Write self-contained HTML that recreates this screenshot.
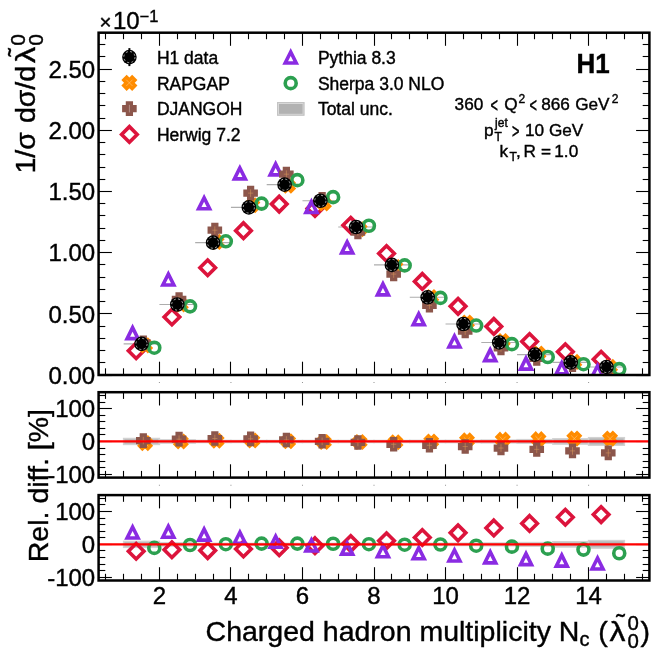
<!DOCTYPE html>
<html lang="en"><head><meta charset="utf-8"><title>H1 charged hadron multiplicity</title>
<style>html,body{margin:0;padding:0;background:#fff}svg{display:block;will-change:transform}text{font-family:"Liberation Sans",sans-serif;fill:#000;stroke:#000;stroke-width:0.4px}</style></head><body>
<svg width="655" height="658" viewBox="0 0 655 658">
<rect width="655" height="658" fill="#fff"/>
<defs>
<clipPath id="ct"><rect x="98.6" y="32.5" width="550.8" height="342.5"/></clipPath>
<clipPath id="cm"><rect x="98.6" y="392.2" width="550.8" height="85.4"/></clipPath>
<clipPath id="cb"><rect x="98.6" y="495.1" width="550.8" height="85.4"/></clipPath>
</defs>
<g stroke="#000" stroke-width="1.1"><line x1="105.5" y1="375" x2="105.5" y2="368.3"/><line x1="105.5" y1="32.5" x2="105.5" y2="39.2"/><line x1="123.5" y1="375" x2="123.5" y2="368.3"/><line x1="123.5" y1="32.5" x2="123.5" y2="39.2"/><line x1="141.5" y1="375" x2="141.5" y2="368.3"/><line x1="141.5" y1="32.5" x2="141.5" y2="39.2"/><line x1="159.5" y1="375" x2="159.5" y2="361.7"/><line x1="159.5" y1="32.5" x2="159.5" y2="45.8"/><line x1="177.5" y1="375" x2="177.5" y2="368.3"/><line x1="177.5" y1="32.5" x2="177.5" y2="39.2"/><line x1="195.5" y1="375" x2="195.5" y2="368.3"/><line x1="195.5" y1="32.5" x2="195.5" y2="39.2"/><line x1="213.5" y1="375" x2="213.5" y2="368.3"/><line x1="213.5" y1="32.5" x2="213.5" y2="39.2"/><line x1="230.5" y1="375" x2="230.5" y2="361.7"/><line x1="230.5" y1="32.5" x2="230.5" y2="45.8"/><line x1="248.5" y1="375" x2="248.5" y2="368.3"/><line x1="248.5" y1="32.5" x2="248.5" y2="39.2"/><line x1="266.5" y1="375" x2="266.5" y2="368.3"/><line x1="266.5" y1="32.5" x2="266.5" y2="39.2"/><line x1="284.5" y1="375" x2="284.5" y2="368.3"/><line x1="284.5" y1="32.5" x2="284.5" y2="39.2"/><line x1="302.5" y1="375" x2="302.5" y2="361.7"/><line x1="302.5" y1="32.5" x2="302.5" y2="45.8"/><line x1="320.5" y1="375" x2="320.5" y2="368.3"/><line x1="320.5" y1="32.5" x2="320.5" y2="39.2"/><line x1="338.5" y1="375" x2="338.5" y2="368.3"/><line x1="338.5" y1="32.5" x2="338.5" y2="39.2"/><line x1="356.5" y1="375" x2="356.5" y2="368.3"/><line x1="356.5" y1="32.5" x2="356.5" y2="39.2"/><line x1="374.5" y1="375" x2="374.5" y2="361.7"/><line x1="374.5" y1="32.5" x2="374.5" y2="45.8"/><line x1="391.5" y1="375" x2="391.5" y2="368.3"/><line x1="391.5" y1="32.5" x2="391.5" y2="39.2"/><line x1="409.5" y1="375" x2="409.5" y2="368.3"/><line x1="409.5" y1="32.5" x2="409.5" y2="39.2"/><line x1="427.5" y1="375" x2="427.5" y2="368.3"/><line x1="427.5" y1="32.5" x2="427.5" y2="39.2"/><line x1="445.5" y1="375" x2="445.5" y2="361.7"/><line x1="445.5" y1="32.5" x2="445.5" y2="45.8"/><line x1="463.5" y1="375" x2="463.5" y2="368.3"/><line x1="463.5" y1="32.5" x2="463.5" y2="39.2"/><line x1="481.5" y1="375" x2="481.5" y2="368.3"/><line x1="481.5" y1="32.5" x2="481.5" y2="39.2"/><line x1="499.5" y1="375" x2="499.5" y2="368.3"/><line x1="499.5" y1="32.5" x2="499.5" y2="39.2"/><line x1="517.5" y1="375" x2="517.5" y2="361.7"/><line x1="517.5" y1="32.5" x2="517.5" y2="45.8"/><line x1="534.5" y1="375" x2="534.5" y2="368.3"/><line x1="534.5" y1="32.5" x2="534.5" y2="39.2"/><line x1="552.5" y1="375" x2="552.5" y2="368.3"/><line x1="552.5" y1="32.5" x2="552.5" y2="39.2"/><line x1="570.5" y1="375" x2="570.5" y2="368.3"/><line x1="570.5" y1="32.5" x2="570.5" y2="39.2"/><line x1="588.5" y1="375" x2="588.5" y2="361.7"/><line x1="588.5" y1="32.5" x2="588.5" y2="45.8"/><line x1="606.5" y1="375" x2="606.5" y2="368.3"/><line x1="606.5" y1="32.5" x2="606.5" y2="39.2"/><line x1="624.5" y1="375" x2="624.5" y2="368.3"/><line x1="624.5" y1="32.5" x2="624.5" y2="39.2"/><line x1="642.5" y1="375" x2="642.5" y2="368.3"/><line x1="642.5" y1="32.5" x2="642.5" y2="39.2"/><line x1="98.6" y1="375.5" x2="111.9" y2="375.5"/><line x1="649.4" y1="375.5" x2="636.1" y2="375.5"/><line x1="98.6" y1="362.5" x2="105.3" y2="362.5"/><line x1="649.4" y1="362.5" x2="642.7" y2="362.5"/><line x1="98.6" y1="350.5" x2="105.3" y2="350.5"/><line x1="649.4" y1="350.5" x2="642.7" y2="350.5"/><line x1="98.6" y1="338.5" x2="105.3" y2="338.5"/><line x1="649.4" y1="338.5" x2="642.7" y2="338.5"/><line x1="98.6" y1="326.5" x2="105.3" y2="326.5"/><line x1="649.4" y1="326.5" x2="642.7" y2="326.5"/><line x1="98.6" y1="313.5" x2="111.9" y2="313.5"/><line x1="649.4" y1="313.5" x2="636.1" y2="313.5"/><line x1="98.6" y1="301.5" x2="105.3" y2="301.5"/><line x1="649.4" y1="301.5" x2="642.7" y2="301.5"/><line x1="98.6" y1="289.5" x2="105.3" y2="289.5"/><line x1="649.4" y1="289.5" x2="642.7" y2="289.5"/><line x1="98.6" y1="277.5" x2="105.3" y2="277.5"/><line x1="649.4" y1="277.5" x2="642.7" y2="277.5"/><line x1="98.6" y1="264.5" x2="105.3" y2="264.5"/><line x1="649.4" y1="264.5" x2="642.7" y2="264.5"/><line x1="98.6" y1="252.5" x2="111.9" y2="252.5"/><line x1="649.4" y1="252.5" x2="636.1" y2="252.5"/><line x1="98.6" y1="240.5" x2="105.3" y2="240.5"/><line x1="649.4" y1="240.5" x2="642.7" y2="240.5"/><line x1="98.6" y1="228.5" x2="105.3" y2="228.5"/><line x1="649.4" y1="228.5" x2="642.7" y2="228.5"/><line x1="98.6" y1="215.5" x2="105.3" y2="215.5"/><line x1="649.4" y1="215.5" x2="642.7" y2="215.5"/><line x1="98.6" y1="203.5" x2="105.3" y2="203.5"/><line x1="649.4" y1="203.5" x2="642.7" y2="203.5"/><line x1="98.6" y1="191.5" x2="111.9" y2="191.5"/><line x1="649.4" y1="191.5" x2="636.1" y2="191.5"/><line x1="98.6" y1="179.5" x2="105.3" y2="179.5"/><line x1="649.4" y1="179.5" x2="642.7" y2="179.5"/><line x1="98.6" y1="167.5" x2="105.3" y2="167.5"/><line x1="649.4" y1="167.5" x2="642.7" y2="167.5"/><line x1="98.6" y1="154.5" x2="105.3" y2="154.5"/><line x1="649.4" y1="154.5" x2="642.7" y2="154.5"/><line x1="98.6" y1="142.5" x2="105.3" y2="142.5"/><line x1="649.4" y1="142.5" x2="642.7" y2="142.5"/><line x1="98.6" y1="130.5" x2="111.9" y2="130.5"/><line x1="649.4" y1="130.5" x2="636.1" y2="130.5"/><line x1="98.6" y1="118.5" x2="105.3" y2="118.5"/><line x1="649.4" y1="118.5" x2="642.7" y2="118.5"/><line x1="98.6" y1="105.5" x2="105.3" y2="105.5"/><line x1="649.4" y1="105.5" x2="642.7" y2="105.5"/><line x1="98.6" y1="93.5" x2="105.3" y2="93.5"/><line x1="649.4" y1="93.5" x2="642.7" y2="93.5"/><line x1="98.6" y1="81.5" x2="105.3" y2="81.5"/><line x1="649.4" y1="81.5" x2="642.7" y2="81.5"/><line x1="98.6" y1="69.5" x2="111.9" y2="69.5"/><line x1="649.4" y1="69.5" x2="636.1" y2="69.5"/><line x1="98.6" y1="56.5" x2="105.3" y2="56.5"/><line x1="649.4" y1="56.5" x2="642.7" y2="56.5"/><line x1="98.6" y1="44.5" x2="105.3" y2="44.5"/><line x1="649.4" y1="44.5" x2="642.7" y2="44.5"/><line x1="98.6" y1="32.5" x2="105.3" y2="32.5"/><line x1="649.4" y1="32.5" x2="642.7" y2="32.5"/></g>
<g stroke="#000" stroke-width="1.1"><line x1="105.5" y1="477.6" x2="105.5" y2="470.9"/><line x1="105.5" y1="392.2" x2="105.5" y2="398.9"/><line x1="123.5" y1="477.6" x2="123.5" y2="470.9"/><line x1="123.5" y1="392.2" x2="123.5" y2="398.9"/><line x1="141.5" y1="477.6" x2="141.5" y2="470.9"/><line x1="141.5" y1="392.2" x2="141.5" y2="398.9"/><line x1="159.5" y1="477.6" x2="159.5" y2="464.3"/><line x1="159.5" y1="392.2" x2="159.5" y2="405.5"/><line x1="177.5" y1="477.6" x2="177.5" y2="470.9"/><line x1="177.5" y1="392.2" x2="177.5" y2="398.9"/><line x1="195.5" y1="477.6" x2="195.5" y2="470.9"/><line x1="195.5" y1="392.2" x2="195.5" y2="398.9"/><line x1="213.5" y1="477.6" x2="213.5" y2="470.9"/><line x1="213.5" y1="392.2" x2="213.5" y2="398.9"/><line x1="230.5" y1="477.6" x2="230.5" y2="464.3"/><line x1="230.5" y1="392.2" x2="230.5" y2="405.5"/><line x1="248.5" y1="477.6" x2="248.5" y2="470.9"/><line x1="248.5" y1="392.2" x2="248.5" y2="398.9"/><line x1="266.5" y1="477.6" x2="266.5" y2="470.9"/><line x1="266.5" y1="392.2" x2="266.5" y2="398.9"/><line x1="284.5" y1="477.6" x2="284.5" y2="470.9"/><line x1="284.5" y1="392.2" x2="284.5" y2="398.9"/><line x1="302.5" y1="477.6" x2="302.5" y2="464.3"/><line x1="302.5" y1="392.2" x2="302.5" y2="405.5"/><line x1="320.5" y1="477.6" x2="320.5" y2="470.9"/><line x1="320.5" y1="392.2" x2="320.5" y2="398.9"/><line x1="338.5" y1="477.6" x2="338.5" y2="470.9"/><line x1="338.5" y1="392.2" x2="338.5" y2="398.9"/><line x1="356.5" y1="477.6" x2="356.5" y2="470.9"/><line x1="356.5" y1="392.2" x2="356.5" y2="398.9"/><line x1="374.5" y1="477.6" x2="374.5" y2="464.3"/><line x1="374.5" y1="392.2" x2="374.5" y2="405.5"/><line x1="391.5" y1="477.6" x2="391.5" y2="470.9"/><line x1="391.5" y1="392.2" x2="391.5" y2="398.9"/><line x1="409.5" y1="477.6" x2="409.5" y2="470.9"/><line x1="409.5" y1="392.2" x2="409.5" y2="398.9"/><line x1="427.5" y1="477.6" x2="427.5" y2="470.9"/><line x1="427.5" y1="392.2" x2="427.5" y2="398.9"/><line x1="445.5" y1="477.6" x2="445.5" y2="464.3"/><line x1="445.5" y1="392.2" x2="445.5" y2="405.5"/><line x1="463.5" y1="477.6" x2="463.5" y2="470.9"/><line x1="463.5" y1="392.2" x2="463.5" y2="398.9"/><line x1="481.5" y1="477.6" x2="481.5" y2="470.9"/><line x1="481.5" y1="392.2" x2="481.5" y2="398.9"/><line x1="499.5" y1="477.6" x2="499.5" y2="470.9"/><line x1="499.5" y1="392.2" x2="499.5" y2="398.9"/><line x1="517.5" y1="477.6" x2="517.5" y2="464.3"/><line x1="517.5" y1="392.2" x2="517.5" y2="405.5"/><line x1="534.5" y1="477.6" x2="534.5" y2="470.9"/><line x1="534.5" y1="392.2" x2="534.5" y2="398.9"/><line x1="552.5" y1="477.6" x2="552.5" y2="470.9"/><line x1="552.5" y1="392.2" x2="552.5" y2="398.9"/><line x1="570.5" y1="477.6" x2="570.5" y2="470.9"/><line x1="570.5" y1="392.2" x2="570.5" y2="398.9"/><line x1="588.5" y1="477.6" x2="588.5" y2="464.3"/><line x1="588.5" y1="392.2" x2="588.5" y2="405.5"/><line x1="606.5" y1="477.6" x2="606.5" y2="470.9"/><line x1="606.5" y1="392.2" x2="606.5" y2="398.9"/><line x1="624.5" y1="477.6" x2="624.5" y2="470.9"/><line x1="624.5" y1="392.2" x2="624.5" y2="398.9"/><line x1="642.5" y1="477.6" x2="642.5" y2="470.9"/><line x1="642.5" y1="392.2" x2="642.5" y2="398.9"/><line x1="98.6" y1="474.5" x2="111.9" y2="474.5"/><line x1="649.4" y1="474.5" x2="636.1" y2="474.5"/><line x1="98.6" y1="467.5" x2="105.3" y2="467.5"/><line x1="649.4" y1="467.5" x2="642.7" y2="467.5"/><line x1="98.6" y1="461.5" x2="105.3" y2="461.5"/><line x1="649.4" y1="461.5" x2="642.7" y2="461.5"/><line x1="98.6" y1="454.5" x2="105.3" y2="454.5"/><line x1="649.4" y1="454.5" x2="642.7" y2="454.5"/><line x1="98.6" y1="448.5" x2="105.3" y2="448.5"/><line x1="649.4" y1="448.5" x2="642.7" y2="448.5"/><line x1="98.6" y1="441.5" x2="111.9" y2="441.5"/><line x1="649.4" y1="441.5" x2="636.1" y2="441.5"/><line x1="98.6" y1="434.5" x2="105.3" y2="434.5"/><line x1="649.4" y1="434.5" x2="642.7" y2="434.5"/><line x1="98.6" y1="428.5" x2="105.3" y2="428.5"/><line x1="649.4" y1="428.5" x2="642.7" y2="428.5"/><line x1="98.6" y1="421.5" x2="105.3" y2="421.5"/><line x1="649.4" y1="421.5" x2="642.7" y2="421.5"/><line x1="98.6" y1="415.5" x2="105.3" y2="415.5"/><line x1="649.4" y1="415.5" x2="642.7" y2="415.5"/><line x1="98.6" y1="408.5" x2="111.9" y2="408.5"/><line x1="649.4" y1="408.5" x2="636.1" y2="408.5"/><line x1="98.6" y1="402.5" x2="105.3" y2="402.5"/><line x1="649.4" y1="402.5" x2="642.7" y2="402.5"/><line x1="98.6" y1="395.5" x2="105.3" y2="395.5"/><line x1="649.4" y1="395.5" x2="642.7" y2="395.5"/></g>
<g stroke="#000" stroke-width="1.1"><line x1="105.5" y1="580.5" x2="105.5" y2="573.8"/><line x1="105.5" y1="495.1" x2="105.5" y2="501.8"/><line x1="123.5" y1="580.5" x2="123.5" y2="573.8"/><line x1="123.5" y1="495.1" x2="123.5" y2="501.8"/><line x1="141.5" y1="580.5" x2="141.5" y2="573.8"/><line x1="141.5" y1="495.1" x2="141.5" y2="501.8"/><line x1="159.5" y1="580.5" x2="159.5" y2="567.2"/><line x1="159.5" y1="495.1" x2="159.5" y2="508.4"/><line x1="177.5" y1="580.5" x2="177.5" y2="573.8"/><line x1="177.5" y1="495.1" x2="177.5" y2="501.8"/><line x1="195.5" y1="580.5" x2="195.5" y2="573.8"/><line x1="195.5" y1="495.1" x2="195.5" y2="501.8"/><line x1="213.5" y1="580.5" x2="213.5" y2="573.8"/><line x1="213.5" y1="495.1" x2="213.5" y2="501.8"/><line x1="230.5" y1="580.5" x2="230.5" y2="567.2"/><line x1="230.5" y1="495.1" x2="230.5" y2="508.4"/><line x1="248.5" y1="580.5" x2="248.5" y2="573.8"/><line x1="248.5" y1="495.1" x2="248.5" y2="501.8"/><line x1="266.5" y1="580.5" x2="266.5" y2="573.8"/><line x1="266.5" y1="495.1" x2="266.5" y2="501.8"/><line x1="284.5" y1="580.5" x2="284.5" y2="573.8"/><line x1="284.5" y1="495.1" x2="284.5" y2="501.8"/><line x1="302.5" y1="580.5" x2="302.5" y2="567.2"/><line x1="302.5" y1="495.1" x2="302.5" y2="508.4"/><line x1="320.5" y1="580.5" x2="320.5" y2="573.8"/><line x1="320.5" y1="495.1" x2="320.5" y2="501.8"/><line x1="338.5" y1="580.5" x2="338.5" y2="573.8"/><line x1="338.5" y1="495.1" x2="338.5" y2="501.8"/><line x1="356.5" y1="580.5" x2="356.5" y2="573.8"/><line x1="356.5" y1="495.1" x2="356.5" y2="501.8"/><line x1="374.5" y1="580.5" x2="374.5" y2="567.2"/><line x1="374.5" y1="495.1" x2="374.5" y2="508.4"/><line x1="391.5" y1="580.5" x2="391.5" y2="573.8"/><line x1="391.5" y1="495.1" x2="391.5" y2="501.8"/><line x1="409.5" y1="580.5" x2="409.5" y2="573.8"/><line x1="409.5" y1="495.1" x2="409.5" y2="501.8"/><line x1="427.5" y1="580.5" x2="427.5" y2="573.8"/><line x1="427.5" y1="495.1" x2="427.5" y2="501.8"/><line x1="445.5" y1="580.5" x2="445.5" y2="567.2"/><line x1="445.5" y1="495.1" x2="445.5" y2="508.4"/><line x1="463.5" y1="580.5" x2="463.5" y2="573.8"/><line x1="463.5" y1="495.1" x2="463.5" y2="501.8"/><line x1="481.5" y1="580.5" x2="481.5" y2="573.8"/><line x1="481.5" y1="495.1" x2="481.5" y2="501.8"/><line x1="499.5" y1="580.5" x2="499.5" y2="573.8"/><line x1="499.5" y1="495.1" x2="499.5" y2="501.8"/><line x1="517.5" y1="580.5" x2="517.5" y2="567.2"/><line x1="517.5" y1="495.1" x2="517.5" y2="508.4"/><line x1="534.5" y1="580.5" x2="534.5" y2="573.8"/><line x1="534.5" y1="495.1" x2="534.5" y2="501.8"/><line x1="552.5" y1="580.5" x2="552.5" y2="573.8"/><line x1="552.5" y1="495.1" x2="552.5" y2="501.8"/><line x1="570.5" y1="580.5" x2="570.5" y2="573.8"/><line x1="570.5" y1="495.1" x2="570.5" y2="501.8"/><line x1="588.5" y1="580.5" x2="588.5" y2="567.2"/><line x1="588.5" y1="495.1" x2="588.5" y2="508.4"/><line x1="606.5" y1="580.5" x2="606.5" y2="573.8"/><line x1="606.5" y1="495.1" x2="606.5" y2="501.8"/><line x1="624.5" y1="580.5" x2="624.5" y2="573.8"/><line x1="624.5" y1="495.1" x2="624.5" y2="501.8"/><line x1="642.5" y1="580.5" x2="642.5" y2="573.8"/><line x1="642.5" y1="495.1" x2="642.5" y2="501.8"/><line x1="98.6" y1="577.5" x2="111.9" y2="577.5"/><line x1="649.4" y1="577.5" x2="636.1" y2="577.5"/><line x1="98.6" y1="570.5" x2="105.3" y2="570.5"/><line x1="649.4" y1="570.5" x2="642.7" y2="570.5"/><line x1="98.6" y1="564.5" x2="105.3" y2="564.5"/><line x1="649.4" y1="564.5" x2="642.7" y2="564.5"/><line x1="98.6" y1="557.5" x2="105.3" y2="557.5"/><line x1="649.4" y1="557.5" x2="642.7" y2="557.5"/><line x1="98.6" y1="550.5" x2="105.3" y2="550.5"/><line x1="649.4" y1="550.5" x2="642.7" y2="550.5"/><line x1="98.6" y1="544.5" x2="111.9" y2="544.5"/><line x1="649.4" y1="544.5" x2="636.1" y2="544.5"/><line x1="98.6" y1="537.5" x2="105.3" y2="537.5"/><line x1="649.4" y1="537.5" x2="642.7" y2="537.5"/><line x1="98.6" y1="531.5" x2="105.3" y2="531.5"/><line x1="649.4" y1="531.5" x2="642.7" y2="531.5"/><line x1="98.6" y1="524.5" x2="105.3" y2="524.5"/><line x1="649.4" y1="524.5" x2="642.7" y2="524.5"/><line x1="98.6" y1="518.5" x2="105.3" y2="518.5"/><line x1="649.4" y1="518.5" x2="642.7" y2="518.5"/><line x1="98.6" y1="511.5" x2="111.9" y2="511.5"/><line x1="649.4" y1="511.5" x2="636.1" y2="511.5"/><line x1="98.6" y1="504.5" x2="105.3" y2="504.5"/><line x1="649.4" y1="504.5" x2="642.7" y2="504.5"/><line x1="98.6" y1="498.5" x2="105.3" y2="498.5"/><line x1="649.4" y1="498.5" x2="642.7" y2="498.5"/></g>
<g clip-path="url(#ct)">
<line x1="123.64" y1="343.9" x2="159.4" y2="343.9" stroke="#adadad" stroke-width="1.1"/>
<line x1="159.4" y1="304.52" x2="195.17" y2="304.52" stroke="#adadad" stroke-width="1.1"/>
<line x1="195.17" y1="242.64" x2="230.94" y2="242.64" stroke="#adadad" stroke-width="1.1"/>
<line x1="230.94" y1="207.42" x2="266.7" y2="207.42" stroke="#adadad" stroke-width="1.1"/>
<line x1="266.7" y1="184.67" x2="302.47" y2="184.67" stroke="#adadad" stroke-width="1.1"/>
<line x1="302.47" y1="200.81" x2="338.23" y2="200.81" stroke="#adadad" stroke-width="1.1"/>
<line x1="338.23" y1="226.98" x2="374" y2="226.98" stroke="#adadad" stroke-width="1.1"/>
<line x1="374" y1="264.9" x2="409.77" y2="264.9" stroke="#adadad" stroke-width="1.1"/>
<line x1="409.77" y1="297.31" x2="445.53" y2="297.31" stroke="#adadad" stroke-width="1.1"/>
<line x1="445.53" y1="323.97" x2="481.3" y2="323.97" stroke="#adadad" stroke-width="1.1"/>
<line x1="481.3" y1="342.44" x2="517.06" y2="342.44" stroke="#adadad" stroke-width="1.1"/>
<line x1="517.06" y1="354.6" x2="552.83" y2="354.6" stroke="#adadad" stroke-width="1.1"/>
<line x1="552.83" y1="362.39" x2="588.6" y2="362.39" stroke="#adadad" stroke-width="1.1"/>
<line x1="588.6" y1="366.96" x2="624.36" y2="366.96" stroke="#adadad" stroke-width="1.1"/>
<polygon points="136.15,342.97 143.93,350.75 136.15,358.53 128.38,350.75" fill="none" stroke="#dc143c" stroke-width="3.6" stroke-linejoin="miter"/>
<polygon points="171.92,309.22 179.7,317 171.92,324.77 164.14,317" fill="none" stroke="#dc143c" stroke-width="3.6" stroke-linejoin="miter"/>
<polygon points="207.69,259.93 215.47,267.71 207.69,275.49 199.91,267.71" fill="none" stroke="#dc143c" stroke-width="3.6" stroke-linejoin="miter"/>
<polygon points="243.45,222.87 251.23,230.65 243.45,238.43 235.68,230.65" fill="none" stroke="#dc143c" stroke-width="3.6" stroke-linejoin="miter"/>
<polygon points="279.22,196.34 287,204.11 279.22,211.89 271.44,204.11" fill="none" stroke="#dc143c" stroke-width="3.6" stroke-linejoin="miter"/>
<polygon points="314.99,200.62 322.76,208.39 314.99,216.17 307.21,208.39" fill="none" stroke="#dc143c" stroke-width="3.6" stroke-linejoin="miter"/>
<polygon points="350.75,217.49 358.53,225.27 350.75,233.05 342.97,225.27" fill="none" stroke="#dc143c" stroke-width="3.6" stroke-linejoin="miter"/>
<polygon points="386.52,245.74 394.3,253.52 386.52,261.3 378.74,253.52" fill="none" stroke="#dc143c" stroke-width="3.6" stroke-linejoin="miter"/>
<polygon points="422.28,273.63 430.06,281.41 422.28,289.19 414.51,281.41" fill="none" stroke="#dc143c" stroke-width="3.6" stroke-linejoin="miter"/>
<polygon points="458.05,298.58 465.83,306.36 458.05,314.13 450.27,306.36" fill="none" stroke="#dc143c" stroke-width="3.6" stroke-linejoin="miter"/>
<polygon points="493.82,318.64 501.6,326.41 493.82,334.19 486.04,326.41" fill="none" stroke="#dc143c" stroke-width="3.6" stroke-linejoin="miter"/>
<polygon points="529.58,333.68 537.36,341.46 529.58,349.23 521.8,341.46" fill="none" stroke="#dc143c" stroke-width="3.6" stroke-linejoin="miter"/>
<polygon points="565.35,344.07 573.13,351.85 565.35,359.63 557.57,351.85" fill="none" stroke="#dc143c" stroke-width="3.6" stroke-linejoin="miter"/>
<polygon points="601.12,351.53 608.89,359.31 601.12,367.09 593.34,359.31" fill="none" stroke="#dc143c" stroke-width="3.6" stroke-linejoin="miter"/>
<polygon points="132.58,327.64 127.08,338.64 138.08,338.64" fill="none" stroke="#8a2be2" stroke-width="3.6" stroke-linejoin="miter" stroke-miterlimit="10"/>
<polygon points="168.34,273.95 162.84,284.95 173.84,284.95" fill="none" stroke="#8a2be2" stroke-width="3.6" stroke-linejoin="miter" stroke-miterlimit="10"/>
<polygon points="204.11,197.76 198.61,208.76 209.61,208.76" fill="none" stroke="#8a2be2" stroke-width="3.6" stroke-linejoin="miter" stroke-miterlimit="10"/>
<polygon points="239.88,167.92 234.38,178.92 245.38,178.92" fill="none" stroke="#8a2be2" stroke-width="3.6" stroke-linejoin="miter" stroke-miterlimit="10"/>
<polygon points="275.64,163.88 270.14,174.88 281.14,174.88" fill="none" stroke="#8a2be2" stroke-width="3.6" stroke-linejoin="miter" stroke-miterlimit="10"/>
<polygon points="311.41,201.43 305.91,212.43 316.91,212.43" fill="none" stroke="#8a2be2" stroke-width="3.6" stroke-linejoin="miter" stroke-miterlimit="10"/>
<polygon points="347.18,241.91 341.68,252.91 352.68,252.91" fill="none" stroke="#8a2be2" stroke-width="3.6" stroke-linejoin="miter" stroke-miterlimit="10"/>
<polygon points="382.94,283.86 377.44,294.86 388.44,294.86" fill="none" stroke="#8a2be2" stroke-width="3.6" stroke-linejoin="miter" stroke-miterlimit="10"/>
<polygon points="418.71,313.82 413.21,324.82 424.21,324.82" fill="none" stroke="#8a2be2" stroke-width="3.6" stroke-linejoin="miter" stroke-miterlimit="10"/>
<polygon points="454.47,335.96 448.97,346.96 459.97,346.96" fill="none" stroke="#8a2be2" stroke-width="3.6" stroke-linejoin="miter" stroke-miterlimit="10"/>
<polygon points="490.24,349.65 484.74,360.65 495.74,360.65" fill="none" stroke="#8a2be2" stroke-width="3.6" stroke-linejoin="miter" stroke-miterlimit="10"/>
<polygon points="526.01,358.09 520.51,369.09 531.51,369.09" fill="none" stroke="#8a2be2" stroke-width="3.6" stroke-linejoin="miter" stroke-miterlimit="10"/>
<polygon points="561.77,362.74 556.27,373.74 567.27,373.74" fill="none" stroke="#8a2be2" stroke-width="3.6" stroke-linejoin="miter" stroke-miterlimit="10"/>
<polygon points="597.54,365.68 592.04,376.68 603.04,376.68" fill="none" stroke="#8a2be2" stroke-width="3.6" stroke-linejoin="miter" stroke-miterlimit="10"/>
<polygon points="142.35,339.87 145.1,342.62 147.85,339.87 150.6,342.62 147.85,345.37 150.6,348.12 147.85,350.87 145.1,348.12 142.35,350.87 139.6,348.12 142.35,345.37 139.6,342.62" fill="#ff8c00" stroke="#ff8c00" stroke-width="3.6" stroke-linejoin="miter"/><path d="M141.9 342.17L148.3 348.57M141.9 348.57L148.3 342.17" stroke="#ffc98a" stroke-width="0.55" fill="none"/>
<polygon points="178.11,299.02 180.86,301.77 183.61,299.02 186.36,301.77 183.61,304.52 186.36,307.27 183.61,310.02 180.86,307.27 178.11,310.02 175.36,307.27 178.11,304.52 175.36,301.77" fill="#ff8c00" stroke="#ff8c00" stroke-width="3.6" stroke-linejoin="miter"/><path d="M177.66 301.32L184.06 307.72M177.66 307.72L184.06 301.32" stroke="#ffc98a" stroke-width="0.55" fill="none"/>
<polygon points="213.88,236.4 216.63,239.15 219.38,236.4 222.13,239.15 219.38,241.9 222.13,244.65 219.38,247.4 216.63,244.65 213.88,247.4 211.13,244.65 213.88,241.9 211.13,239.15" fill="#ff8c00" stroke="#ff8c00" stroke-width="3.6" stroke-linejoin="miter"/><path d="M213.43 238.7L219.83 245.1M213.43 245.1L219.83 238.7" stroke="#ffc98a" stroke-width="0.55" fill="none"/>
<polygon points="249.64,199.71 252.39,202.46 255.14,199.71 257.89,202.46 255.14,205.21 257.89,207.96 255.14,210.71 252.39,207.96 249.64,210.71 246.89,207.96 249.64,205.21 246.89,202.46" fill="#ff8c00" stroke="#ff8c00" stroke-width="3.6" stroke-linejoin="miter"/><path d="M249.19 202.01L255.59 208.41M249.19 208.41L255.59 202.01" stroke="#ffc98a" stroke-width="0.55" fill="none"/>
<polygon points="285.41,180.15 288.16,182.9 290.91,180.15 293.66,182.9 290.91,185.65 293.66,188.4 290.91,191.15 288.16,188.4 285.41,191.15 282.66,188.4 285.41,185.65 282.66,182.9" fill="#ff8c00" stroke="#ff8c00" stroke-width="3.6" stroke-linejoin="miter"/><path d="M284.96 182.45L291.36 188.85M284.96 188.85L291.36 182.45" stroke="#ffc98a" stroke-width="0.55" fill="none"/>
<polygon points="321.18,197.88 323.93,200.63 326.68,197.88 329.43,200.63 326.68,203.38 329.43,206.13 326.68,208.88 323.93,206.13 321.18,208.88 318.43,206.13 321.18,203.38 318.43,200.63" fill="#ff8c00" stroke="#ff8c00" stroke-width="3.6" stroke-linejoin="miter"/><path d="M320.73 200.18L327.13 206.58M320.73 206.58L327.13 200.18" stroke="#ffc98a" stroke-width="0.55" fill="none"/>
<polygon points="356.94,223.69 359.69,226.44 362.44,223.69 365.19,226.44 362.44,229.19 365.19,231.94 362.44,234.69 359.69,231.94 356.94,234.69 354.19,231.94 356.94,229.19 354.19,226.44" fill="#ff8c00" stroke="#ff8c00" stroke-width="3.6" stroke-linejoin="miter"/><path d="M356.49 225.99L362.89 232.39M356.49 232.39L362.89 225.99" stroke="#ffc98a" stroke-width="0.55" fill="none"/>
<polygon points="392.71,261.48 395.46,264.23 398.21,261.48 400.96,264.23 398.21,266.98 400.96,269.73 398.21,272.48 395.46,269.73 392.71,272.48 389.96,269.73 392.71,266.98 389.96,264.23" fill="#ff8c00" stroke="#ff8c00" stroke-width="3.6" stroke-linejoin="miter"/><path d="M392.26 263.78L398.66 270.18M392.26 270.18L398.66 263.78" stroke="#ffc98a" stroke-width="0.55" fill="none"/>
<polygon points="428.48,291.56 431.23,294.31 433.98,291.56 436.73,294.31 433.98,297.06 436.73,299.81 433.98,302.56 431.23,299.81 428.48,302.56 425.73,299.81 428.48,297.06 425.73,294.31" fill="#ff8c00" stroke="#ff8c00" stroke-width="3.6" stroke-linejoin="miter"/><path d="M428.03 293.86L434.43 300.26M428.03 300.26L434.43 293.86" stroke="#ffc98a" stroke-width="0.55" fill="none"/>
<polygon points="464.24,317 466.99,319.75 469.74,317 472.49,319.75 469.74,322.5 472.49,325.25 469.74,328 466.99,325.25 464.24,328 461.49,325.25 464.24,322.5 461.49,319.75" fill="#ff8c00" stroke="#ff8c00" stroke-width="3.6" stroke-linejoin="miter"/><path d="M463.79 319.3L470.19 325.7M463.79 325.7L470.19 319.3" stroke="#ffc98a" stroke-width="0.55" fill="none"/>
<polygon points="500.01,335.47 502.76,338.22 505.51,335.47 508.26,338.22 505.51,340.97 508.26,343.72 505.51,346.47 502.76,343.72 500.01,346.47 497.26,343.72 500.01,340.97 497.26,338.22" fill="#ff8c00" stroke="#ff8c00" stroke-width="3.6" stroke-linejoin="miter"/><path d="M499.56 337.77L505.96 344.17M499.56 344.17L505.96 337.77" stroke="#ffc98a" stroke-width="0.55" fill="none"/>
<polygon points="535.77,347.94 538.52,350.69 541.27,347.94 544.02,350.69 541.27,353.44 544.02,356.19 541.27,358.94 538.52,356.19 535.77,358.94 533.02,356.19 535.77,353.44 533.02,350.69" fill="#ff8c00" stroke="#ff8c00" stroke-width="3.6" stroke-linejoin="miter"/><path d="M535.32 350.24L541.72 356.64M535.32 356.64L541.72 350.24" stroke="#ffc98a" stroke-width="0.55" fill="none"/>
<polygon points="571.54,356.38 574.29,359.13 577.04,356.38 579.79,359.13 577.04,361.88 579.79,364.63 577.04,367.38 574.29,364.63 571.54,367.38 568.79,364.63 571.54,361.88 568.79,359.13" fill="#ff8c00" stroke="#ff8c00" stroke-width="3.6" stroke-linejoin="miter"/><path d="M571.09 358.68L577.49 365.08M571.09 365.08L577.49 358.68" stroke="#ffc98a" stroke-width="0.55" fill="none"/>
<polygon points="607.31,361.4 610.06,364.15 612.81,361.4 615.56,364.15 612.81,366.9 615.56,369.65 612.81,372.4 610.06,369.65 607.31,372.4 604.56,369.65 607.31,366.9 604.56,364.15" fill="#ff8c00" stroke="#ff8c00" stroke-width="3.6" stroke-linejoin="miter"/><path d="M606.86 363.7L613.26 370.1M606.86 370.1L613.26 363.7" stroke="#ffc98a" stroke-width="0.55" fill="none"/>
<polygon points="141.47,337.42 145.14,337.42 145.14,341.09 148.81,341.09 148.81,344.76 145.14,344.76 145.14,348.42 141.47,348.42 141.47,344.76 137.81,344.76 137.81,341.09 141.47,341.09" fill="#8c564b" stroke="#8c564b" stroke-width="3.6" stroke-linejoin="miter"/><line x1="143.31" y1="339.12" x2="143.31" y2="346.72" stroke="#dd9a5c" stroke-width="0.55"/><line x1="140.71" y1="342.92" x2="145.91" y2="342.92" stroke="#dd9a5c" stroke-width="0.5"/>
<polygon points="177.24,294.01 180.91,294.01 180.91,297.67 184.57,297.67 184.57,301.34 180.91,301.34 180.91,305.01 177.24,305.01 177.24,301.34 173.57,301.34 173.57,297.67 177.24,297.67" fill="#8c564b" stroke="#8c564b" stroke-width="3.6" stroke-linejoin="miter"/><line x1="179.07" y1="295.71" x2="179.07" y2="303.31" stroke="#dd9a5c" stroke-width="0.55"/><line x1="176.47" y1="299.51" x2="181.67" y2="299.51" stroke="#dd9a5c" stroke-width="0.5"/>
<polygon points="213.01,224.66 216.67,224.66 216.67,228.33 220.34,228.33 220.34,232 216.67,232 216.67,235.66 213.01,235.66 213.01,232 209.34,232 209.34,228.33 213.01,228.33" fill="#8c564b" stroke="#8c564b" stroke-width="3.6" stroke-linejoin="miter"/><line x1="214.84" y1="226.36" x2="214.84" y2="233.96" stroke="#dd9a5c" stroke-width="0.55"/><line x1="212.24" y1="230.16" x2="217.44" y2="230.16" stroke="#dd9a5c" stroke-width="0.5"/>
<polygon points="248.77,187.61 252.44,187.61 252.44,191.27 256.11,191.27 256.11,194.94 252.44,194.94 252.44,198.61 248.77,198.61 248.77,194.94 245.11,194.94 245.11,191.27 248.77,191.27" fill="#8c564b" stroke="#8c564b" stroke-width="3.6" stroke-linejoin="miter"/><line x1="250.61" y1="189.31" x2="250.61" y2="196.91" stroke="#dd9a5c" stroke-width="0.55"/><line x1="248.01" y1="193.11" x2="253.21" y2="193.11" stroke="#dd9a5c" stroke-width="0.5"/>
<polygon points="284.54,168.65 288.21,168.65 288.21,172.32 291.87,172.32 291.87,175.98 288.21,175.98 288.21,179.65 284.54,179.65 284.54,175.98 280.87,175.98 280.87,172.32 284.54,172.32" fill="#8c564b" stroke="#8c564b" stroke-width="3.6" stroke-linejoin="miter"/><line x1="286.37" y1="170.35" x2="286.37" y2="177.95" stroke="#dd9a5c" stroke-width="0.55"/><line x1="283.77" y1="174.15" x2="288.97" y2="174.15" stroke="#dd9a5c" stroke-width="0.5"/>
<polygon points="320.31,193.72 323.97,193.72 323.97,197.39 327.64,197.39 327.64,201.06 323.97,201.06 323.97,204.72 320.31,204.72 320.31,201.06 316.64,201.06 316.64,197.39 320.31,197.39" fill="#8c564b" stroke="#8c564b" stroke-width="3.6" stroke-linejoin="miter"/><line x1="322.14" y1="195.42" x2="322.14" y2="203.02" stroke="#dd9a5c" stroke-width="0.55"/><line x1="319.54" y1="199.22" x2="324.74" y2="199.22" stroke="#dd9a5c" stroke-width="0.5"/>
<polygon points="356.07,226.5 359.74,226.5 359.74,230.16 363.41,230.16 363.41,233.83 359.74,233.83 359.74,237.5 356.07,237.5 356.07,233.83 352.41,233.83 352.41,230.16 356.07,230.16" fill="#8c564b" stroke="#8c564b" stroke-width="3.6" stroke-linejoin="miter"/><line x1="357.91" y1="228.2" x2="357.91" y2="235.8" stroke="#dd9a5c" stroke-width="0.55"/><line x1="355.31" y1="232" x2="360.51" y2="232" stroke="#dd9a5c" stroke-width="0.5"/>
<polygon points="391.84,268.57 395.5,268.57 395.5,272.24 399.17,272.24 399.17,275.9 395.5,275.9 395.5,279.57 391.84,279.57 391.84,275.9 388.17,275.9 388.17,272.24 391.84,272.24" fill="#8c564b" stroke="#8c564b" stroke-width="3.6" stroke-linejoin="miter"/><line x1="393.67" y1="270.27" x2="393.67" y2="277.87" stroke="#dd9a5c" stroke-width="0.55"/><line x1="391.07" y1="274.07" x2="396.27" y2="274.07" stroke="#dd9a5c" stroke-width="0.5"/>
<polygon points="427.6,299.76 431.27,299.76 431.27,303.42 434.94,303.42 434.94,307.09 431.27,307.09 431.27,310.76 427.6,310.76 427.6,307.09 423.94,307.09 423.94,303.42 427.6,303.42" fill="#8c564b" stroke="#8c564b" stroke-width="3.6" stroke-linejoin="miter"/><line x1="429.44" y1="301.46" x2="429.44" y2="309.06" stroke="#dd9a5c" stroke-width="0.55"/><line x1="426.84" y1="305.26" x2="432.04" y2="305.26" stroke="#dd9a5c" stroke-width="0.5"/>
<polygon points="463.37,325.56 467.04,325.56 467.04,329.23 470.7,329.23 470.7,332.89 467.04,332.89 467.04,336.56 463.37,336.56 463.37,332.89 459.7,332.89 459.7,329.23 463.37,329.23" fill="#8c564b" stroke="#8c564b" stroke-width="3.6" stroke-linejoin="miter"/><line x1="465.2" y1="327.26" x2="465.2" y2="334.86" stroke="#dd9a5c" stroke-width="0.55"/><line x1="462.6" y1="331.06" x2="467.8" y2="331.06" stroke="#dd9a5c" stroke-width="0.5"/>
<polygon points="499.14,342.44 502.8,342.44 502.8,346.11 506.47,346.11 506.47,349.77 502.8,349.77 502.8,353.44 499.14,353.44 499.14,349.77 495.47,349.77 495.47,346.11 499.14,346.11" fill="#8c564b" stroke="#8c564b" stroke-width="3.6" stroke-linejoin="miter"/><line x1="500.97" y1="344.14" x2="500.97" y2="351.74" stroke="#dd9a5c" stroke-width="0.55"/><line x1="498.37" y1="347.94" x2="503.57" y2="347.94" stroke="#dd9a5c" stroke-width="0.5"/>
<polygon points="534.9,352.96 538.57,352.96 538.57,356.62 542.24,356.62 542.24,360.29 538.57,360.29 538.57,363.96 534.9,363.96 534.9,360.29 531.24,360.29 531.24,356.62 534.9,356.62" fill="#8c564b" stroke="#8c564b" stroke-width="3.6" stroke-linejoin="miter"/><line x1="536.74" y1="354.66" x2="536.74" y2="362.26" stroke="#dd9a5c" stroke-width="0.55"/><line x1="534.14" y1="358.46" x2="539.34" y2="358.46" stroke="#dd9a5c" stroke-width="0.5"/>
<polygon points="570.67,359.32 574.34,359.32 574.34,362.98 578,362.98 578,366.65 574.34,366.65 574.34,370.32 570.67,370.32 570.67,366.65 567,366.65 567,362.98 570.67,362.98" fill="#8c564b" stroke="#8c564b" stroke-width="3.6" stroke-linejoin="miter"/><line x1="572.5" y1="361.02" x2="572.5" y2="368.62" stroke="#dd9a5c" stroke-width="0.55"/><line x1="569.9" y1="364.82" x2="575.1" y2="364.82" stroke="#dd9a5c" stroke-width="0.5"/>
<polygon points="606.44,364.21 610.1,364.21 610.1,367.87 613.77,367.87 613.77,371.54 610.1,371.54 610.1,375.21 606.44,375.21 606.44,371.54 602.77,371.54 602.77,367.87 606.44,367.87" fill="#8c564b" stroke="#8c564b" stroke-width="3.6" stroke-linejoin="miter"/><line x1="608.27" y1="365.91" x2="608.27" y2="373.51" stroke="#dd9a5c" stroke-width="0.55"/><line x1="605.67" y1="369.71" x2="610.87" y2="369.71" stroke="#dd9a5c" stroke-width="0.5"/>
<circle cx="154.29" cy="347.69" r="5.5" fill="none" stroke="#2ca050" stroke-width="3.6"/>
<circle cx="190.05" cy="306.36" r="5.5" fill="none" stroke="#2ca050" stroke-width="3.6"/>
<circle cx="225.82" cy="241.29" r="5.5" fill="none" stroke="#2ca050" stroke-width="3.6"/>
<circle cx="261.59" cy="203.62" r="5.5" fill="none" stroke="#2ca050" stroke-width="3.6"/>
<circle cx="297.35" cy="180.14" r="5.5" fill="none" stroke="#2ca050" stroke-width="3.6"/>
<circle cx="333.12" cy="197.14" r="5.5" fill="none" stroke="#2ca050" stroke-width="3.6"/>
<circle cx="368.89" cy="225.76" r="5.5" fill="none" stroke="#2ca050" stroke-width="3.6"/>
<circle cx="404.65" cy="265.39" r="5.5" fill="none" stroke="#2ca050" stroke-width="3.6"/>
<circle cx="440.42" cy="297.92" r="5.5" fill="none" stroke="#2ca050" stroke-width="3.6"/>
<circle cx="476.18" cy="325.56" r="5.5" fill="none" stroke="#2ca050" stroke-width="3.6"/>
<circle cx="511.95" cy="344.15" r="5.5" fill="none" stroke="#2ca050" stroke-width="3.6"/>
<circle cx="547.72" cy="356.99" r="5.5" fill="none" stroke="#2ca050" stroke-width="3.6"/>
<circle cx="583.48" cy="364.2" r="5.5" fill="none" stroke="#2ca050" stroke-width="3.6"/>
<circle cx="619.25" cy="369.1" r="5.5" fill="none" stroke="#2ca050" stroke-width="3.6"/>
<circle cx="141.52" cy="343.9" r="7.3" fill="#000"/><circle cx="141.52" cy="343.9" r="5.6" fill="none" stroke="#fff" stroke-opacity="0.95" stroke-width="0.68" stroke-dasharray="2.1 2.3"/>
<circle cx="177.29" cy="304.52" r="7.3" fill="#000"/><circle cx="177.29" cy="304.52" r="5.6" fill="none" stroke="#fff" stroke-opacity="0.95" stroke-width="0.68" stroke-dasharray="2.1 2.3"/>
<circle cx="213.05" cy="242.64" r="7.3" fill="#000"/><circle cx="213.05" cy="242.64" r="5.6" fill="none" stroke="#fff" stroke-opacity="0.95" stroke-width="0.68" stroke-dasharray="2.1 2.3"/>
<circle cx="248.82" cy="207.42" r="7.3" fill="#000"/><circle cx="248.82" cy="207.42" r="5.6" fill="none" stroke="#fff" stroke-opacity="0.95" stroke-width="0.68" stroke-dasharray="2.1 2.3"/>
<circle cx="284.58" cy="184.67" r="7.3" fill="#000"/><circle cx="284.58" cy="184.67" r="5.6" fill="none" stroke="#fff" stroke-opacity="0.95" stroke-width="0.68" stroke-dasharray="2.1 2.3"/>
<circle cx="320.35" cy="200.81" r="7.3" fill="#000"/><circle cx="320.35" cy="200.81" r="5.6" fill="none" stroke="#fff" stroke-opacity="0.95" stroke-width="0.68" stroke-dasharray="2.1 2.3"/>
<circle cx="356.12" cy="226.98" r="7.3" fill="#000"/><circle cx="356.12" cy="226.98" r="5.6" fill="none" stroke="#fff" stroke-opacity="0.95" stroke-width="0.68" stroke-dasharray="2.1 2.3"/>
<circle cx="391.88" cy="264.9" r="7.3" fill="#000"/><circle cx="391.88" cy="264.9" r="5.6" fill="none" stroke="#fff" stroke-opacity="0.95" stroke-width="0.68" stroke-dasharray="2.1 2.3"/>
<circle cx="427.65" cy="297.31" r="7.3" fill="#000"/><circle cx="427.65" cy="297.31" r="5.6" fill="none" stroke="#fff" stroke-opacity="0.95" stroke-width="0.68" stroke-dasharray="2.1 2.3"/>
<circle cx="463.42" cy="323.97" r="7.3" fill="#000"/><circle cx="463.42" cy="323.97" r="5.6" fill="none" stroke="#fff" stroke-opacity="0.95" stroke-width="0.68" stroke-dasharray="2.1 2.3"/>
<circle cx="499.18" cy="342.44" r="7.3" fill="#000"/><circle cx="499.18" cy="342.44" r="5.6" fill="none" stroke="#fff" stroke-opacity="0.95" stroke-width="0.68" stroke-dasharray="2.1 2.3"/>
<circle cx="534.95" cy="354.6" r="7.3" fill="#000"/><circle cx="534.95" cy="354.6" r="5.6" fill="none" stroke="#fff" stroke-opacity="0.95" stroke-width="0.68" stroke-dasharray="2.1 2.3"/>
<circle cx="570.71" cy="362.39" r="7.3" fill="#000"/><circle cx="570.71" cy="362.39" r="5.6" fill="none" stroke="#fff" stroke-opacity="0.95" stroke-width="0.68" stroke-dasharray="2.1 2.3"/>
<circle cx="606.48" cy="366.96" r="7.3" fill="#000"/><circle cx="606.48" cy="366.96" r="5.6" fill="none" stroke="#fff" stroke-opacity="0.95" stroke-width="0.68" stroke-dasharray="2.1 2.3"/>
</g>
<g clip-path="url(#cm)">
<rect x="123.64" y="438.51" width="35.77" height="5.91" fill="#b6b6b6" stroke="#d2d2d2" stroke-width="1.5"/><rect x="159.4" y="439.83" width="35.77" height="3.28" fill="#b6b6b6" stroke="#d2d2d2" stroke-width="1.5"/><rect x="195.17" y="440.42" width="35.77" height="2.1" fill="#b6b6b6" stroke="#d2d2d2" stroke-width="1.5"/><rect x="230.94" y="440.48" width="35.77" height="1.97" fill="#b6b6b6" stroke="#d2d2d2" stroke-width="1.5"/><rect x="266.7" y="440.48" width="35.77" height="1.97" fill="#b6b6b6" stroke="#d2d2d2" stroke-width="1.5"/><rect x="302.47" y="440.48" width="35.77" height="1.97" fill="#b6b6b6" stroke="#d2d2d2" stroke-width="1.5"/><rect x="338.23" y="440.48" width="35.77" height="1.97" fill="#b6b6b6" stroke="#d2d2d2" stroke-width="1.5"/><rect x="374" y="440.48" width="35.77" height="1.97" fill="#b6b6b6" stroke="#d2d2d2" stroke-width="1.5"/><rect x="409.77" y="440.42" width="35.77" height="2.1" fill="#b6b6b6" stroke="#d2d2d2" stroke-width="1.5"/><rect x="445.53" y="440.35" width="35.77" height="2.23" fill="#b6b6b6" stroke="#d2d2d2" stroke-width="1.5"/><rect x="481.3" y="440.09" width="35.77" height="2.76" fill="#b6b6b6" stroke="#d2d2d2" stroke-width="1.5"/><rect x="517.06" y="439.66" width="35.77" height="3.61" fill="#b6b6b6" stroke="#d2d2d2" stroke-width="1.5"/><rect x="552.83" y="438.84" width="35.77" height="5.26" fill="#b6b6b6" stroke="#d2d2d2" stroke-width="1.5"/><rect x="588.6" y="437.69" width="35.77" height="7.55" fill="#b6b6b6" stroke="#d2d2d2" stroke-width="1.5"/>
<polygon points="142.35,437.61 145.1,440.36 147.85,437.61 150.6,440.36 147.85,443.11 150.6,445.86 147.85,448.61 145.1,445.86 142.35,448.61 139.6,445.86 142.35,443.11 139.6,440.36" fill="#ff8c00" stroke="#ff8c00" stroke-width="3.6" stroke-linejoin="miter"/><path d="M141.9 439.91L148.3 446.31M141.9 446.31L148.3 439.91" stroke="#ffc98a" stroke-width="0.55" fill="none"/>
<polygon points="178.11,435.97 180.86,438.72 183.61,435.97 186.36,438.72 183.61,441.47 186.36,444.22 183.61,446.97 180.86,444.22 178.11,446.97 175.36,444.22 178.11,441.47 175.36,438.72" fill="#ff8c00" stroke="#ff8c00" stroke-width="3.6" stroke-linejoin="miter"/><path d="M177.66 438.27L184.06 444.67M177.66 444.67L184.06 438.27" stroke="#ffc98a" stroke-width="0.55" fill="none"/>
<polygon points="213.88,435.31 216.63,438.06 219.38,435.31 222.13,438.06 219.38,440.81 222.13,443.56 219.38,446.31 216.63,443.56 213.88,446.31 211.13,443.56 213.88,440.81 211.13,438.06" fill="#ff8c00" stroke="#ff8c00" stroke-width="3.6" stroke-linejoin="miter"/><path d="M213.43 437.61L219.83 444.01M213.43 444.01L219.83 437.61" stroke="#ffc98a" stroke-width="0.55" fill="none"/>
<polygon points="249.64,434.98 252.39,437.73 255.14,434.98 257.89,437.73 255.14,440.48 257.89,443.23 255.14,445.98 252.39,443.23 249.64,445.98 246.89,443.23 249.64,440.48 246.89,437.73" fill="#ff8c00" stroke="#ff8c00" stroke-width="3.6" stroke-linejoin="miter"/><path d="M249.19 437.28L255.59 443.68M249.19 443.68L255.59 437.28" stroke="#ffc98a" stroke-width="0.55" fill="none"/>
<polygon points="285.41,435.81 288.16,438.56 290.91,435.81 293.66,438.56 290.91,441.31 293.66,444.06 290.91,446.81 288.16,444.06 285.41,446.81 282.66,444.06 285.41,441.31 282.66,438.56" fill="#ff8c00" stroke="#ff8c00" stroke-width="3.6" stroke-linejoin="miter"/><path d="M284.96 438.11L291.36 444.5M284.96 444.5L291.36 438.11" stroke="#ffc98a" stroke-width="0.55" fill="none"/>
<polygon points="321.18,436.46 323.93,439.21 326.68,436.46 329.43,439.21 326.68,441.96 329.43,444.71 326.68,447.46 323.93,444.71 321.18,447.46 318.43,444.71 321.18,441.96 318.43,439.21" fill="#ff8c00" stroke="#ff8c00" stroke-width="3.6" stroke-linejoin="miter"/><path d="M320.73 438.76L327.13 445.16M320.73 445.16L327.13 438.76" stroke="#ffc98a" stroke-width="0.55" fill="none"/>
<polygon points="356.94,436.46 359.69,439.21 362.44,436.46 365.19,439.21 362.44,441.96 365.19,444.71 362.44,447.46 359.69,444.71 356.94,447.46 354.19,444.71 356.94,441.96 354.19,439.21" fill="#ff8c00" stroke="#ff8c00" stroke-width="3.6" stroke-linejoin="miter"/><path d="M356.49 438.76L362.89 445.16M356.49 445.16L362.89 438.76" stroke="#ffc98a" stroke-width="0.55" fill="none"/>
<polygon points="392.71,436.79 395.46,439.54 398.21,436.79 400.96,439.54 398.21,442.29 400.96,445.04 398.21,447.79 395.46,445.04 392.71,447.79 389.96,445.04 392.71,442.29 389.96,439.54" fill="#ff8c00" stroke="#ff8c00" stroke-width="3.6" stroke-linejoin="miter"/><path d="M392.26 439.09L398.66 445.49M392.26 445.49L398.66 439.09" stroke="#ffc98a" stroke-width="0.55" fill="none"/>
<polygon points="428.48,435.97 431.23,438.72 433.98,435.97 436.73,438.72 433.98,441.47 436.73,444.22 433.98,446.97 431.23,444.22 428.48,446.97 425.73,444.22 428.48,441.47 425.73,438.72" fill="#ff8c00" stroke="#ff8c00" stroke-width="3.6" stroke-linejoin="miter"/><path d="M428.03 438.27L434.43 444.67M428.03 444.67L434.43 438.27" stroke="#ffc98a" stroke-width="0.55" fill="none"/>
<polygon points="464.24,434.89 466.99,437.64 469.74,434.89 472.49,437.64 469.74,440.39 472.49,443.14 469.74,445.89 466.99,443.14 464.24,445.89 461.49,443.14 464.24,440.39 461.49,437.64" fill="#ff8c00" stroke="#ff8c00" stroke-width="3.6" stroke-linejoin="miter"/><path d="M463.79 437.19L470.19 443.59M463.79 443.59L470.19 437.19" stroke="#ffc98a" stroke-width="0.55" fill="none"/>
<polygon points="500.01,434.16 502.76,436.91 505.51,434.16 508.26,436.91 505.51,439.66 508.26,442.41 505.51,445.16 502.76,442.41 500.01,445.16 497.26,442.41 500.01,439.66 497.26,436.91" fill="#ff8c00" stroke="#ff8c00" stroke-width="3.6" stroke-linejoin="miter"/><path d="M499.56 436.46L505.96 442.86M499.56 442.86L505.96 436.46" stroke="#ffc98a" stroke-width="0.55" fill="none"/>
<polygon points="535.77,433.67 538.52,436.42 541.27,433.67 544.02,436.42 541.27,439.17 544.02,441.92 541.27,444.67 538.52,441.92 535.77,444.67 533.02,441.92 535.77,439.17 533.02,436.42" fill="#ff8c00" stroke="#ff8c00" stroke-width="3.6" stroke-linejoin="miter"/><path d="M535.32 435.97L541.72 442.37M535.32 442.37L541.72 435.97" stroke="#ffc98a" stroke-width="0.55" fill="none"/>
<polygon points="571.54,433.11 574.29,435.86 577.04,433.11 579.79,435.86 577.04,438.61 579.79,441.36 577.04,444.11 574.29,441.36 571.54,444.11 568.79,441.36 571.54,438.61 568.79,435.86" fill="#ff8c00" stroke="#ff8c00" stroke-width="3.6" stroke-linejoin="miter"/><path d="M571.09 435.41L577.49 441.81M571.09 441.81L577.49 435.41" stroke="#ffc98a" stroke-width="0.55" fill="none"/>
<polygon points="607.31,433.11 610.06,435.86 612.81,433.11 615.56,435.86 612.81,438.61 615.56,441.36 612.81,444.11 610.06,441.36 607.31,444.11 604.56,441.36 607.31,438.61 604.56,435.86" fill="#ff8c00" stroke="#ff8c00" stroke-width="3.6" stroke-linejoin="miter"/><path d="M606.86 435.41L613.26 441.81M606.86 441.81L613.26 435.41" stroke="#ffc98a" stroke-width="0.55" fill="none"/>
<polygon points="141.47,435.08 145.14,435.08 145.14,438.75 148.81,438.75 148.81,442.42 145.14,442.42 145.14,446.08 141.47,446.08 141.47,442.42 137.81,442.42 137.81,438.75 141.47,438.75" fill="#8c564b" stroke="#8c564b" stroke-width="3.6" stroke-linejoin="miter"/><line x1="143.31" y1="436.78" x2="143.31" y2="444.38" stroke="#dd9a5c" stroke-width="0.55"/><line x1="140.71" y1="440.58" x2="145.91" y2="440.58" stroke="#dd9a5c" stroke-width="0.5"/>
<polygon points="177.24,433.67 180.91,433.67 180.91,437.34 184.57,437.34 184.57,441 180.91,441 180.91,444.67 177.24,444.67 177.24,441 173.57,441 173.57,437.34 177.24,437.34" fill="#8c564b" stroke="#8c564b" stroke-width="3.6" stroke-linejoin="miter"/><line x1="179.07" y1="435.37" x2="179.07" y2="442.97" stroke="#dd9a5c" stroke-width="0.55"/><line x1="176.47" y1="439.17" x2="181.67" y2="439.17" stroke="#dd9a5c" stroke-width="0.5"/>
<polygon points="213.01,433.01 216.67,433.01 216.67,436.68 220.34,436.68 220.34,440.35 216.67,440.35 216.67,444.01 213.01,444.01 213.01,440.35 209.34,440.35 209.34,436.68 213.01,436.68" fill="#8c564b" stroke="#8c564b" stroke-width="3.6" stroke-linejoin="miter"/><line x1="214.84" y1="434.71" x2="214.84" y2="442.31" stroke="#dd9a5c" stroke-width="0.55"/><line x1="212.24" y1="438.51" x2="217.44" y2="438.51" stroke="#dd9a5c" stroke-width="0.5"/>
<polygon points="248.77,433.34 252.44,433.34 252.44,437.01 256.11,437.01 256.11,440.67 252.44,440.67 252.44,444.34 248.77,444.34 248.77,440.67 245.11,440.67 245.11,437.01 248.77,437.01" fill="#8c564b" stroke="#8c564b" stroke-width="3.6" stroke-linejoin="miter"/><line x1="250.61" y1="435.04" x2="250.61" y2="442.64" stroke="#dd9a5c" stroke-width="0.55"/><line x1="248.01" y1="438.84" x2="253.21" y2="438.84" stroke="#dd9a5c" stroke-width="0.5"/>
<polygon points="284.54,434.49 288.21,434.49 288.21,438.16 291.87,438.16 291.87,441.82 288.21,441.82 288.21,445.49 284.54,445.49 284.54,441.82 280.87,441.82 280.87,438.16 284.54,438.16" fill="#8c564b" stroke="#8c564b" stroke-width="3.6" stroke-linejoin="miter"/><line x1="286.37" y1="436.19" x2="286.37" y2="443.79" stroke="#dd9a5c" stroke-width="0.55"/><line x1="283.77" y1="439.99" x2="288.97" y2="439.99" stroke="#dd9a5c" stroke-width="0.5"/>
<polygon points="320.31,435.81 323.97,435.81 323.97,439.47 327.64,439.47 327.64,443.14 323.97,443.14 323.97,446.81 320.31,446.81 320.31,443.14 316.64,443.14 316.64,439.47 320.31,439.47" fill="#8c564b" stroke="#8c564b" stroke-width="3.6" stroke-linejoin="miter"/><line x1="322.14" y1="437.5" x2="322.14" y2="445.11" stroke="#dd9a5c" stroke-width="0.55"/><line x1="319.54" y1="441.31" x2="324.74" y2="441.31" stroke="#dd9a5c" stroke-width="0.5"/>
<polygon points="356.07,436.95 359.74,436.95 359.74,440.62 363.41,440.62 363.41,444.29 359.74,444.29 359.74,447.95 356.07,447.95 356.07,444.29 352.41,444.29 352.41,440.62 356.07,440.62" fill="#8c564b" stroke="#8c564b" stroke-width="3.6" stroke-linejoin="miter"/><line x1="357.91" y1="438.65" x2="357.91" y2="446.25" stroke="#dd9a5c" stroke-width="0.55"/><line x1="355.31" y1="442.45" x2="360.51" y2="442.45" stroke="#dd9a5c" stroke-width="0.5"/>
<polygon points="391.84,438.76 395.5,438.76 395.5,442.43 399.17,442.43 399.17,446.09 395.5,446.09 395.5,449.76 391.84,449.76 391.84,446.09 388.17,446.09 388.17,442.43 391.84,442.43" fill="#8c564b" stroke="#8c564b" stroke-width="3.6" stroke-linejoin="miter"/><line x1="393.67" y1="440.46" x2="393.67" y2="448.06" stroke="#dd9a5c" stroke-width="0.55"/><line x1="391.07" y1="444.26" x2="396.27" y2="444.26" stroke="#dd9a5c" stroke-width="0.5"/>
<polygon points="427.6,439.75 431.27,439.75 431.27,443.41 434.94,443.41 434.94,447.08 431.27,447.08 431.27,450.75 427.6,450.75 427.6,447.08 423.94,447.08 423.94,443.41 427.6,443.41" fill="#8c564b" stroke="#8c564b" stroke-width="3.6" stroke-linejoin="miter"/><line x1="429.44" y1="441.45" x2="429.44" y2="449.05" stroke="#dd9a5c" stroke-width="0.55"/><line x1="426.84" y1="445.25" x2="432.04" y2="445.25" stroke="#dd9a5c" stroke-width="0.5"/>
<polygon points="463.37,441.06 467.04,441.06 467.04,444.73 470.7,444.73 470.7,448.39 467.04,448.39 467.04,452.06 463.37,452.06 463.37,448.39 459.7,448.39 459.7,444.73 463.37,444.73" fill="#8c564b" stroke="#8c564b" stroke-width="3.6" stroke-linejoin="miter"/><line x1="465.2" y1="442.76" x2="465.2" y2="450.36" stroke="#dd9a5c" stroke-width="0.55"/><line x1="462.6" y1="446.56" x2="467.8" y2="446.56" stroke="#dd9a5c" stroke-width="0.5"/>
<polygon points="499.14,442.54 502.8,442.54 502.8,446.21 506.47,446.21 506.47,449.87 502.8,449.87 502.8,453.54 499.14,453.54 499.14,449.87 495.47,449.87 495.47,446.21 499.14,446.21" fill="#8c564b" stroke="#8c564b" stroke-width="3.6" stroke-linejoin="miter"/><line x1="500.97" y1="444.24" x2="500.97" y2="451.84" stroke="#dd9a5c" stroke-width="0.55"/><line x1="498.37" y1="448.04" x2="503.57" y2="448.04" stroke="#dd9a5c" stroke-width="0.5"/>
<polygon points="534.9,443.85 538.57,443.85 538.57,447.52 542.24,447.52 542.24,451.19 538.57,451.19 538.57,454.85 534.9,454.85 534.9,451.19 531.24,451.19 531.24,447.52 534.9,447.52" fill="#8c564b" stroke="#8c564b" stroke-width="3.6" stroke-linejoin="miter"/><line x1="536.74" y1="445.55" x2="536.74" y2="453.15" stroke="#dd9a5c" stroke-width="0.55"/><line x1="534.14" y1="449.35" x2="539.34" y2="449.35" stroke="#dd9a5c" stroke-width="0.5"/>
<polygon points="570.67,445.4 574.34,445.4 574.34,449.06 578,449.06 578,452.73 574.34,452.73 574.34,456.4 570.67,456.4 570.67,452.73 567,452.73 567,449.06 570.67,449.06" fill="#8c564b" stroke="#8c564b" stroke-width="3.6" stroke-linejoin="miter"/><line x1="572.5" y1="447.1" x2="572.5" y2="454.7" stroke="#dd9a5c" stroke-width="0.55"/><line x1="569.9" y1="450.9" x2="575.1" y2="450.9" stroke="#dd9a5c" stroke-width="0.5"/>
<polygon points="606.44,447.4 610.1,447.4 610.1,451.07 613.77,451.07 613.77,454.73 610.1,454.73 610.1,458.4 606.44,458.4 606.44,454.73 602.77,454.73 602.77,451.07 606.44,451.07" fill="#8c564b" stroke="#8c564b" stroke-width="3.6" stroke-linejoin="miter"/><line x1="608.27" y1="449.1" x2="608.27" y2="456.7" stroke="#dd9a5c" stroke-width="0.55"/><line x1="605.67" y1="452.9" x2="610.87" y2="452.9" stroke="#dd9a5c" stroke-width="0.5"/>
</g>
<g clip-path="url(#cb)">
<rect x="123.64" y="541.41" width="35.77" height="5.91" fill="#b6b6b6" stroke="#d2d2d2" stroke-width="1.5"/><rect x="159.4" y="542.73" width="35.77" height="3.28" fill="#b6b6b6" stroke="#d2d2d2" stroke-width="1.5"/><rect x="195.17" y="543.32" width="35.77" height="2.1" fill="#b6b6b6" stroke="#d2d2d2" stroke-width="1.5"/><rect x="230.94" y="543.38" width="35.77" height="1.97" fill="#b6b6b6" stroke="#d2d2d2" stroke-width="1.5"/><rect x="266.7" y="543.38" width="35.77" height="1.97" fill="#b6b6b6" stroke="#d2d2d2" stroke-width="1.5"/><rect x="302.47" y="543.38" width="35.77" height="1.97" fill="#b6b6b6" stroke="#d2d2d2" stroke-width="1.5"/><rect x="338.23" y="543.38" width="35.77" height="1.97" fill="#b6b6b6" stroke="#d2d2d2" stroke-width="1.5"/><rect x="374" y="543.38" width="35.77" height="1.97" fill="#b6b6b6" stroke="#d2d2d2" stroke-width="1.5"/><rect x="409.77" y="543.32" width="35.77" height="2.1" fill="#b6b6b6" stroke="#d2d2d2" stroke-width="1.5"/><rect x="445.53" y="543.25" width="35.77" height="2.23" fill="#b6b6b6" stroke="#d2d2d2" stroke-width="1.5"/><rect x="481.3" y="542.99" width="35.77" height="2.76" fill="#b6b6b6" stroke="#d2d2d2" stroke-width="1.5"/><rect x="517.06" y="542.56" width="35.77" height="3.61" fill="#b6b6b6" stroke="#d2d2d2" stroke-width="1.5"/><rect x="552.83" y="541.74" width="35.77" height="5.26" fill="#b6b6b6" stroke="#d2d2d2" stroke-width="1.5"/><rect x="588.6" y="540.59" width="35.77" height="7.55" fill="#b6b6b6" stroke="#d2d2d2" stroke-width="1.5"/>
<polygon points="136.15,543.46 143.93,551.23 136.15,559.01 128.38,551.23" fill="none" stroke="#dc143c" stroke-width="3.6" stroke-linejoin="miter"/>
<polygon points="171.92,542.01 179.7,549.79 171.92,557.57 164.14,549.79" fill="none" stroke="#dc143c" stroke-width="3.6" stroke-linejoin="miter"/>
<polygon points="207.69,542.83 215.47,550.61 207.69,558.39 199.91,550.61" fill="none" stroke="#dc143c" stroke-width="3.6" stroke-linejoin="miter"/>
<polygon points="243.45,541.19 251.23,548.97 243.45,556.75 235.68,548.97" fill="none" stroke="#dc143c" stroke-width="3.6" stroke-linejoin="miter"/>
<polygon points="279.22,539.97 287,547.75 279.22,555.53 271.44,547.75" fill="none" stroke="#dc143c" stroke-width="3.6" stroke-linejoin="miter"/>
<polygon points="314.99,537.9 322.76,545.68 314.99,553.46 307.21,545.68" fill="none" stroke="#dc143c" stroke-width="3.6" stroke-linejoin="miter"/>
<polygon points="350.75,535.77 358.53,543.55 350.75,551.33 342.97,543.55" fill="none" stroke="#dc143c" stroke-width="3.6" stroke-linejoin="miter"/>
<polygon points="386.52,532.98 394.3,540.76 386.52,548.53 378.74,540.76" fill="none" stroke="#dc143c" stroke-width="3.6" stroke-linejoin="miter"/>
<polygon points="422.28,529.69 430.06,537.47 422.28,545.25 414.51,537.47" fill="none" stroke="#dc143c" stroke-width="3.6" stroke-linejoin="miter"/>
<polygon points="458.05,525.09 465.83,532.87 458.05,540.65 450.27,532.87" fill="none" stroke="#dc143c" stroke-width="3.6" stroke-linejoin="miter"/>
<polygon points="493.82,520.17 501.6,527.95 493.82,535.72 486.04,527.95" fill="none" stroke="#dc143c" stroke-width="3.6" stroke-linejoin="miter"/>
<polygon points="529.58,515.67 537.36,523.45 529.58,531.22 521.8,523.45" fill="none" stroke="#dc143c" stroke-width="3.6" stroke-linejoin="miter"/>
<polygon points="565.35,509.43 573.13,517.21 565.35,524.98 557.57,517.21" fill="none" stroke="#dc143c" stroke-width="3.6" stroke-linejoin="miter"/>
<polygon points="601.12,506.8 608.89,514.58 601.12,522.36 593.34,514.58" fill="none" stroke="#dc143c" stroke-width="3.6" stroke-linejoin="miter"/>
<polygon points="132.58,527.04 127.08,538.04 138.08,538.04" fill="none" stroke="#8a2be2" stroke-width="3.6" stroke-linejoin="miter" stroke-miterlimit="10"/>
<polygon points="168.34,526.22 162.84,537.22 173.84,537.22" fill="none" stroke="#8a2be2" stroke-width="3.6" stroke-linejoin="miter" stroke-miterlimit="10"/>
<polygon points="204.11,529.08 198.61,540.08 209.61,540.08" fill="none" stroke="#8a2be2" stroke-width="3.6" stroke-linejoin="miter" stroke-miterlimit="10"/>
<polygon points="239.88,532.3 234.38,543.3 245.38,543.3" fill="none" stroke="#8a2be2" stroke-width="3.6" stroke-linejoin="miter" stroke-miterlimit="10"/>
<polygon points="275.64,536.24 270.14,547.24 281.14,547.24" fill="none" stroke="#8a2be2" stroke-width="3.6" stroke-linejoin="miter" stroke-miterlimit="10"/>
<polygon points="311.41,540.02 305.91,551.02 316.91,551.02" fill="none" stroke="#8a2be2" stroke-width="3.6" stroke-linejoin="miter" stroke-miterlimit="10"/>
<polygon points="347.18,543.14 341.68,554.14 352.68,554.14" fill="none" stroke="#8a2be2" stroke-width="3.6" stroke-linejoin="miter" stroke-miterlimit="10"/>
<polygon points="382.94,545.77 377.44,556.77 388.44,556.77" fill="none" stroke="#8a2be2" stroke-width="3.6" stroke-linejoin="miter" stroke-miterlimit="10"/>
<polygon points="418.71,547.74 413.21,558.74 424.21,558.74" fill="none" stroke="#8a2be2" stroke-width="3.6" stroke-linejoin="miter" stroke-miterlimit="10"/>
<polygon points="454.47,550.04 448.97,561.04 459.97,561.04" fill="none" stroke="#8a2be2" stroke-width="3.6" stroke-linejoin="miter" stroke-miterlimit="10"/>
<polygon points="490.24,551.88 484.74,562.88 495.74,562.88" fill="none" stroke="#8a2be2" stroke-width="3.6" stroke-linejoin="miter" stroke-miterlimit="10"/>
<polygon points="526.01,553.58 520.51,564.58 531.51,564.58" fill="none" stroke="#8a2be2" stroke-width="3.6" stroke-linejoin="miter" stroke-miterlimit="10"/>
<polygon points="561.77,555.1 556.27,566.1 567.27,566.1" fill="none" stroke="#8a2be2" stroke-width="3.6" stroke-linejoin="miter" stroke-miterlimit="10"/>
<polygon points="597.54,558.02 592.04,569.02 603.04,569.02" fill="none" stroke="#8a2be2" stroke-width="3.6" stroke-linejoin="miter" stroke-miterlimit="10"/>
<circle cx="154.29" cy="547.88" r="5.5" fill="none" stroke="#2ca050" stroke-width="3.6"/>
<circle cx="190.05" cy="545.03" r="5.5" fill="none" stroke="#2ca050" stroke-width="3.6"/>
<circle cx="225.82" cy="544.21" r="5.5" fill="none" stroke="#2ca050" stroke-width="3.6"/>
<circle cx="261.59" cy="543.58" r="5.5" fill="none" stroke="#2ca050" stroke-width="3.6"/>
<circle cx="297.35" cy="543.58" r="5.5" fill="none" stroke="#2ca050" stroke-width="3.6"/>
<circle cx="333.12" cy="543.78" r="5.5" fill="none" stroke="#2ca050" stroke-width="3.6"/>
<circle cx="368.89" cy="544.21" r="5.5" fill="none" stroke="#2ca050" stroke-width="3.6"/>
<circle cx="404.65" cy="544.7" r="5.5" fill="none" stroke="#2ca050" stroke-width="3.6"/>
<circle cx="440.42" cy="544.53" r="5.5" fill="none" stroke="#2ca050" stroke-width="3.6"/>
<circle cx="476.18" cy="545.68" r="5.5" fill="none" stroke="#2ca050" stroke-width="3.6"/>
<circle cx="511.95" cy="546.67" r="5.5" fill="none" stroke="#2ca050" stroke-width="3.6"/>
<circle cx="547.72" cy="548.64" r="5.5" fill="none" stroke="#2ca050" stroke-width="3.6"/>
<circle cx="583.48" cy="549.62" r="5.5" fill="none" stroke="#2ca050" stroke-width="3.6"/>
<circle cx="619.25" cy="553.24" r="5.5" fill="none" stroke="#2ca050" stroke-width="3.6"/>
</g>
<line x1="98.6" y1="441.47" x2="649.4" y2="441.47" stroke="#ff0000" stroke-width="2.2"/>
<line x1="98.6" y1="544.37" x2="649.4" y2="544.37" stroke="#ff0000" stroke-width="2.2"/>
<rect x="98.6" y="32.7" width="550.8" height="342.3" fill="none" stroke="#000" stroke-width="2.5"/>
<rect x="98.6" y="392.2" width="550.8" height="85.4" fill="none" stroke="#000" stroke-width="2.5"/>
<rect x="98.6" y="495.1" width="550.8" height="85.4" fill="none" stroke="#000" stroke-width="2.5"/>
<rect x="158.9" y="382.2" width="1" height="0.8" fill="#777"/>
<rect x="230.44" y="382.2" width="1" height="0.8" fill="#777"/>
<rect x="301.97" y="382.2" width="1" height="0.8" fill="#777"/>
<rect x="373.5" y="382.2" width="1" height="0.8" fill="#777"/>
<rect x="445.03" y="382.2" width="1" height="0.8" fill="#777"/>
<rect x="516.56" y="382.2" width="1" height="0.8" fill="#777"/>
<rect x="588.1" y="382.2" width="1" height="0.8" fill="#777"/>
<rect x="158.9" y="484.8" width="1" height="0.8" fill="#777"/>
<rect x="230.44" y="484.8" width="1" height="0.8" fill="#777"/>
<rect x="301.97" y="484.8" width="1" height="0.8" fill="#777"/>
<rect x="373.5" y="484.8" width="1" height="0.8" fill="#777"/>
<rect x="445.03" y="484.8" width="1" height="0.8" fill="#777"/>
<rect x="516.56" y="484.8" width="1" height="0.8" fill="#777"/>
<rect x="588.1" y="484.8" width="1" height="0.8" fill="#777"/>
<text x="95.2" y="384.1" font-size="24" text-anchor="end">0.00</text>
<text x="95.2" y="322.94" font-size="24" text-anchor="end">0.50</text>
<text x="95.2" y="261.18" font-size="24" text-anchor="end">1.00</text>
<text x="95.2" y="200.02" font-size="24" text-anchor="end">1.50</text>
<text x="95.2" y="138.86" font-size="24" text-anchor="end">2.00</text>
<text x="95.2" y="77.7" font-size="24" text-anchor="end">2.50</text>
<text x="95.2" y="417.12" font-size="24" text-anchor="end">100</text>
<text x="95.2" y="449.97" font-size="24" text-anchor="end">0</text>
<text x="95.2" y="482.82" font-size="24" text-anchor="end">-100</text>
<text x="95.2" y="520.02" font-size="24" text-anchor="end">100</text>
<text x="95.2" y="552.87" font-size="24" text-anchor="end">0</text>
<text x="95.2" y="585.72" font-size="24" text-anchor="end">-100</text>
<text x="159.4" y="604.1" font-size="24" text-anchor="middle">2</text>
<text x="230.94" y="604.1" font-size="24" text-anchor="middle">4</text>
<text x="302.47" y="604.1" font-size="24" text-anchor="middle">6</text>
<text x="374" y="604.1" font-size="24" text-anchor="middle">8</text>
<text x="445.53" y="604.1" font-size="24" text-anchor="middle">10</text>
<text x="517.06" y="604.1" font-size="24" text-anchor="middle">12</text>
<text x="588.6" y="604.1" font-size="24" text-anchor="middle">14</text>
<text x="99.5" y="29.4" font-size="20.5">×</text>
<text x="112.9" y="29.1" font-size="24">10<tspan dy="-7.4" font-size="16.5">−1</tspan></text>
<text x="579.4" y="640.6" font-size="28.5" text-anchor="end">Charged hadron multiplicity N</text>
<text x="579.5" y="645.6" font-size="20">c</text>
<text x="598.2" y="640.6" font-size="28.5">(</text>
<text transform="translate(609.5,640.6) scale(1.12,1)" font-size="28.5">λ</text>
<text x="616.2" y="632.4" font-size="26">˜</text>
<text x="627.6" y="630.4" font-size="20.4">0</text>
<text x="627.6" y="648.3" font-size="20.4">0</text>
<text x="640.6" y="640.6" font-size="28.5">)</text>
<text transform="translate(35.1,173.5) rotate(-90)" font-size="28.5">1/σ</text>
<text transform="translate(35.1,123.1) rotate(-90)" font-size="28.5">dσ/d</text>
<text transform="translate(35.1,63) rotate(-90) scale(1.13,1)" font-size="28.5">λ</text>
<text transform="translate(25.5,56.5) rotate(-90)" font-size="25.3">˜</text>
<text transform="translate(24.6,45.5) rotate(-90)" font-size="20.4">0</text>
<text transform="translate(42.5,45.5) rotate(-90)" font-size="20.4">0</text>
<text transform="translate(48.4,485.65) rotate(-90)" font-size="28.5" text-anchor="middle">Rel. diff. [%]</text>
<line x1="129.4" y1="48.1" x2="129.4" y2="66.1" stroke="#000" stroke-width="2"/><circle cx="129.4" cy="57.1" r="7.3" fill="#000"/><circle cx="129.4" cy="57.1" r="5.6" fill="none" stroke="#fff" stroke-opacity="0.95" stroke-width="0.68" stroke-dasharray="2.1 2.3"/>
<polygon points="126.65,77.37 129.4,80.12 132.15,77.37 134.9,80.12 132.15,82.87 134.9,85.62 132.15,88.37 129.4,85.62 126.65,88.37 123.9,85.62 126.65,82.87 123.9,80.12" fill="#ff8c00" stroke="#ff8c00" stroke-width="3.6" stroke-linejoin="miter"/><path d="M126.2 79.67L132.6 86.07M126.2 86.07L132.6 79.67" stroke="#ffc98a" stroke-width="0.55" fill="none"/>
<polygon points="127.57,103.14 131.23,103.14 131.23,106.81 134.9,106.81 134.9,110.47 131.23,110.47 131.23,114.14 127.57,114.14 127.57,110.47 123.9,110.47 123.9,106.81 127.57,106.81" fill="#8c564b" stroke="#8c564b" stroke-width="3.6" stroke-linejoin="miter"/><line x1="129.4" y1="104.84" x2="129.4" y2="112.44" stroke="#d6bdb6" stroke-width="0.55"/>
<polygon points="129.4,126.63 137.18,134.41 129.4,142.19 121.62,134.41" fill="none" stroke="#dc143c" stroke-width="3.6" stroke-linejoin="miter"/>
<polygon points="290.7,52 285.2,63 296.2,63" fill="none" stroke="#8a2be2" stroke-width="3.6" stroke-linejoin="miter" stroke-miterlimit="10"/>
<circle cx="290.7" cy="83.17" r="5.5" fill="none" stroke="#2ca050" stroke-width="3.6"/>
<rect x="277.5" y="102.5" width="26.6" height="12.8" fill="#b2b2b2" stroke="#c4c4c4" stroke-width="1"/>
<rect x="278.5" y="103.5" width="24.6" height="10.8" fill="none" stroke="#d8d8d8" stroke-width="1"/>
<text x="156.9" y="63.95" font-size="17.5">H1 data</text>
<text x="156.9" y="89.72" font-size="17.5">RAPGAP</text>
<text x="156.9" y="115.49" font-size="17.5">DJANGOH</text>
<text x="156.9" y="141.26" font-size="17.5">Herwig 7.2</text>
<text x="317.9" y="63.95" font-size="17.5">Pythia 8.3</text>
<text x="317.9" y="89.72" font-size="17.5">Sherpa 3.0 NLO</text>
<text x="317.9" y="115.49" font-size="17.5">Total unc.</text>
<text transform="translate(576.6,73.0) scale(1,1.07)" font-size="26" font-weight="bold">H1</text>
<text x="454.6" y="109.8" font-size="17.2">360</text>
<text transform="translate(490.4,112) scale(0.74,1.15)" font-size="17.2">&lt;</text>
<text x="504.2" y="109.8" font-size="17.2">Q</text>
<text x="518.4" y="103.2" font-size="12">2</text>
<text transform="translate(529.4,112) scale(0.74,1.15)" font-size="17.2">&lt;</text>
<text x="541.2" y="109.8" font-size="17.2">866</text>
<text x="575.2" y="109.8" font-size="17.2">GeV</text>
<text x="611.7" y="103.3" font-size="12">2</text>
<text x="484" y="135.8" font-size="17.2">p</text>
<text x="494.5" y="141.1" font-size="12">T</text>
<text x="495.1" y="127" font-size="12">jet</text>
<text transform="translate(512,138.05) scale(0.74,1.15)" font-size="17.2">&gt;</text>
<text x="525" y="135.8" font-size="17.2">10</text>
<text x="548.9" y="135.8" font-size="17.2">GeV</text>
<text x="499.5" y="157.3" font-size="17.2">k</text>
<text x="509.5" y="161" font-size="12">T</text>
<text x="516" y="157.3" font-size="17.2">,</text>
<text x="523.4" y="157.3" font-size="17.2">R</text>
<text x="541" y="157.3" font-size="17.2">=</text>
<text x="554.3" y="157.3" font-size="17.2">1.0</text>
</svg></body></html>
